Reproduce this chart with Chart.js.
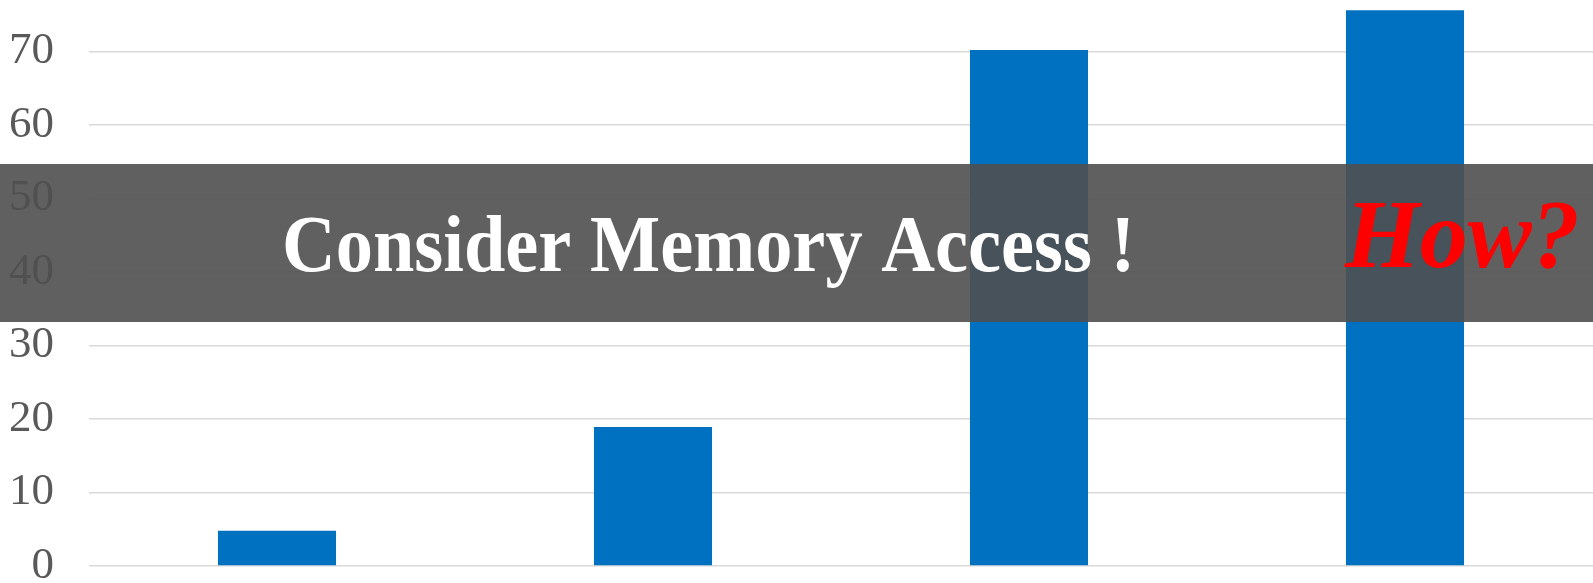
<!DOCTYPE html>
<html>
<head>
<meta charset="utf-8">
<script src="https://cdn.jsdelivr.net/npm/chart.js@4/dist/chart.umd.min.js"></script>
<style>
  html, body { margin: 0; padding: 0; background: #ffffff; overflow: hidden; }
  canvas { display: block; }
</style>
</head>
<body>
<canvas id="barChart" width="1593" height="583"></canvas>
<script>
const categories = ['A', 'B', 'C', 'D'];
const values = [4.8, 18.9, 70.2, 75.6];
const yTicks = [0, 10, 20, 30, 40, 50, 60, 70];

// draw a caption squeezed horizontally by sx
function drawSqueezed(ctx, text, x, y, sx) {
    ctx.save();
    ctx.translate(x, y);
    ctx.scale(sx, 1);
    ctx.fillText(text, 0, 0);
    ctx.restore();
}

// Dark strip across the middle with the two captions
const bannerPlugin = {
    id: 'banner',
    afterDraw(chart) {
        const ctx = chart.ctx;
        ctx.save();
        ctx.fillStyle = 'rgba(79, 79, 79, 0.9)';
        ctx.fillRect(0, 164, chart.width, 158);

        ctx.textBaseline = 'alphabetic';
        ctx.textAlign = 'left';
        ctx.fillStyle = '#ffffff';
        ctx.font = 'bold 80px "Liberation Serif", "Times New Roman", serif';
        drawSqueezed(ctx, 'Consider Memory Access !', 282, 271, 0.93);

        ctx.fillStyle = '#ff0000';
        ctx.font = 'italic bold 98px "Liberation Serif", "Times New Roman", serif';
        drawSqueezed(ctx, 'How?', 1345, 267, 0.98);
        ctx.restore();
    }
};

const ctxBar = document.getElementById('barChart').getContext('2d');
const barChart = new Chart(ctxBar, {
    type: 'bar',
    data: {
        labels: categories,
        datasets: [{
            data: values,
            backgroundColor: '#0070c0',
            borderWidth: 0,
            categoryPercentage: 1,
            barPercentage: 0.314
        }]
    },
    options: {
        responsive: false,
        animation: false,
        layout: { padding: 0 },
        plugins: {
            legend: { display: false },
            tooltip: { enabled: false }
        },
        scales: {
            x: { display: false },
            y: {
                min: 0,
                max: 77,
                border: { display: false },
                grid: {
                    color: '#d9d9d9',
                    lineWidth: 1.5,
                    drawTicks: false
                },
                afterBuildTicks: function (scale) {
                    scale.ticks = yTicks.map(v => ({ value: v }));
                },
                ticks: {
                    padding: 35,
                    color: '#595959',
                    font: { family: '"Liberation Serif", "Times New Roman", serif', size: 45 }
                },
                afterFit: function (scale) {
                    scale.width = 89;
                    scale.paddingTop = 0;
                    scale.paddingBottom = 17;
                }
            }
        }
    },
    plugins: [bannerPlugin]
});
</script>
</body>
</html>
